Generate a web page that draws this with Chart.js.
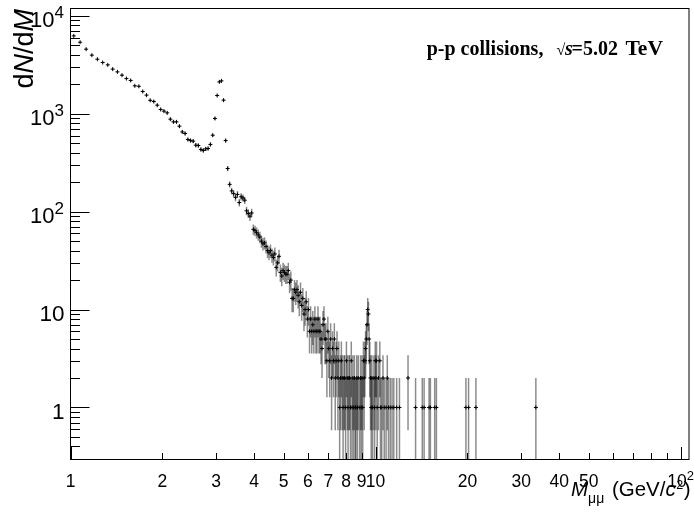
<!DOCTYPE html>
<html><head><meta charset="utf-8">
<script src="https://cdn.jsdelivr.net/npm/chart.js@4.4.1/dist/chart.umd.min.js"></script>
<style>html,body{margin:0;padding:0;background:#fff;}canvas{display:block;}</style>
</head><body>
<canvas id="c" width="694" height="514"></canvas>
<script>
// Bin centres (GeV/c^2) of non-empty bins, 0.05 GeV wide
const massBins = [
1.025,1.075,1.125,1.175,1.225,1.275,1.325,1.375,1.425,1.475,1.525,1.575,1.625,1.675,1.725,1.775,1.825,1.875,1.925,1.975,
2.025,2.075,2.125,2.175,2.225,2.275,2.325,2.375,2.425,2.475,2.525,2.575,2.625,2.675,2.725,2.775,2.825,2.875,2.925,2.975,
3.025,3.075,3.125,3.175,3.225,3.275,3.325,3.375,3.425,3.475,3.525,3.575,3.625,3.675,3.725,3.775,3.825,3.875,3.925,3.975,
4.025,4.075,4.125,4.175,4.225,4.275,4.325,4.375,4.425,4.475,4.525,4.575,4.625,4.675,4.725,4.775,4.825,4.875,4.925,4.975,
5.025,5.075,5.125,5.175,5.225,5.275,5.325,5.375,5.425,5.475,5.525,5.575,5.625,5.675,5.725,5.775,5.825,5.875,5.925,5.975,
6.025,6.075,6.125,6.175,6.225,6.275,6.325,6.375,6.425,6.475,6.525,6.575,6.625,6.675,6.725,6.775,6.825,6.875,6.925,6.975,
7.025,7.075,7.125,7.175,7.225,7.275,7.325,7.375,7.425,7.475,7.525,7.575,7.625,7.675,7.725,7.775,7.825,7.875,7.925,7.975,
8.025,8.075,8.125,8.175,8.225,8.275,8.325,8.375,8.425,8.475,8.525,8.575,8.625,8.675,8.725,8.775,8.875,8.925,8.975,
9.025,9.075,9.125,9.175,9.225,9.275,9.325,9.375,9.425,9.475,9.525,9.575,9.625,9.675,9.725,9.775,9.875,9.925,9.975,
10.025,10.075,10.125,10.225,10.325,10.375,10.475,10.575,10.675,10.825,10.925,11.025,11.175,11.325,11.475,11.725,11.975,
12.775,13.525,14.225,14.425,14.975,15.125,15.625,15.825,19.775,20.175,21.325,33.525
];
// Entries per bin (dN/dM)
const counts = [
6250,5380,4570,3970,3610,3340,3160,2860,2680,2480,2290,2190,1930,1910,1690,1550,1372,1335,1225,1107,
1064,1022,881,827,827,747,653,629,546,533,525,478,474,432,422,438,442,486,604,896,
1538,2118,2170,1377,533,276,190,163,153,140,150,124,142,138,131,102,96,90,97,66,
64,61,58,55,50,47,48,44,40,38,40,36,34,37,27,30,35,24,22,25,
24,23,23,25,19,20,13,13,16,15,16,14,12,15,11,13,9,10,12,8,
10,6,8,6,7,6,8,6,6,8,6,6,5,4,7,8,5,5,3,6,
4,3,5,2,4,3,5,2,3,4,2,3,1,2,3,2,1,2,2,1,
3,2,1,2,2,1,3,1,2,1,2,1,1,2,1,2,1,2,1,
2,1,3,2,3,4,5,7,10,9,5,3,2,1,2,1,2,1,3,
2,3,1,2,3,1,1,2,1,1,2,1,1,1,1,1,1,
2,1,1,1,1,1,1,1,1,1,1,1
];
const yTickValues = [1, 10, 100, 1000, 10000];
const yTickLabels = ['1', '10', '10^2', '10^3', '10^4'];
const xTickValues = [1, 2, 3, 4, 5, 6, 7, 8, 9, 10, 20, 30, 40, 50, 100];
const xTickLabels = ['1', '2', '3', '4', '5', '6', '7', '8', '9', '10', '20', '30', '40', '50', '10^2'];
const xRange = [1, 106.5];
const yRange = [0.294, 11900];

const SANS = '"Liberation Sans", Arial, Helvetica, sans-serif';
const SERIF = '"Liberation Serif", "Times New Roman", serif';

const points = massBins.map((m, i) => ({x: m, y: counts[i]}));

function drawPowLabel(ctx, label, x, y, align, size, supSize, supRaise) {
  const parts = label.split('^');
  ctx.font = size + 'px ' + SANS;
  const wb = ctx.measureText(parts[0]).width;
  let ws = 0;
  if (parts[1]) { ctx.font = supSize + 'px ' + SANS; ws = ctx.measureText(parts[1]).width; }
  const tot = wb + ws;
  let x0 = align === 'right' ? x - tot : (align === 'center' ? x - tot / 2 : x);
  ctx.textAlign = 'left';
  ctx.textBaseline = 'alphabetic';
  ctx.font = size + 'px ' + SANS;
  ctx.fillText(parts[0], x0, y);
  if (parts[1]) { ctx.font = supSize + 'px ' + SANS; ctx.fillText(parts[1], x0 + wb, y - supRaise); }
}

function drawSegments(ctx, segs, xRight, y) {
  let tot = 0;
  segs.forEach(s => { ctx.font = s.f; s.w = ctx.measureText(s.t).width + (s.gap || 0); tot += s.w; });
  let x = xRight - tot;
  ctx.textAlign = 'left'; ctx.textBaseline = 'alphabetic';
  segs.forEach(s => { ctx.font = s.f; ctx.fillText(s.t, x, y + (s.dy || 0)); x += s.w; });
}

const rootStyle = {
  id: 'rootStyle',
  beforeDatasetsDraw(chart) {
    const {ctx, chartArea: a, scales: {x, y}} = chart;
    ctx.save();
    ctx.beginPath(); ctx.rect(a.left, a.top, a.right - a.left, a.bottom - a.top); ctx.clip();
    ctx.strokeStyle = 'rgba(0,0,0,0.45)'; ctx.lineWidth = 1.5;
    points.forEach(p => {
      const e = Math.sqrt(p.y);
      const px = x.getPixelForValue(p.x);
      const yHi = y.getPixelForValue(p.y + e);
      const yLo = (p.y - e) > 0 ? y.getPixelForValue(p.y - e) : a.bottom + 2;
      ctx.beginPath(); ctx.moveTo(px, yHi); ctx.lineTo(px, yLo); ctx.stroke();
    });
    ctx.restore();
  },
  afterDraw(chart) {
    const {ctx, chartArea: a, scales: {x, y}} = chart;
    ctx.save();
    ctx.fillStyle = '#000'; ctx.strokeStyle = '#000'; ctx.lineWidth = 1;
    // frame
    ctx.strokeRect(a.left, a.top, a.right - a.left, a.bottom - a.top);
    // y ticks
    ctx.beginPath();
    for (let d = -1; d <= 4; d++) {
      for (let k = 1; k <= 9; k++) {
        const v = k * Math.pow(10, d);
        if (v < yRange[0] || v > yRange[1]) continue;
        const py = Math.round(y.getPixelForValue(v)) + 0.5;
        const len = k === 1 ? 19 : 9.5;
        ctx.moveTo(a.left, py); ctx.lineTo(a.left + len, py);
      }
    }
    // x ticks
    for (let d = 0; d <= 2; d++) {
      for (let k = 1; k <= 9; k++) {
        const v = k * Math.pow(10, d);
        if (v < xRange[0] || v > xRange[1]) continue;
        const px = Math.round(x.getPixelForValue(v)) + 0.5;
        const len = k === 1 ? 12.5 : 6.5;
        ctx.moveTo(px, a.bottom); ctx.lineTo(px, a.bottom - len);
      }
    }
    ctx.stroke();
    // y labels
    yTickValues.forEach((v, i) => {
      const py = y.getPixelForValue(v);
      const lab = yTickLabels[i];
      if (lab.indexOf('^') >= 0) drawPowLabel(ctx, lab, 64, py + 11.5, 'right', 22, 17, 9.5);
      else drawPowLabel(ctx, lab, 64.5, py + 11.5, 'right', 22.5, 16, 9);
    });
    // x labels
    xTickValues.forEach((v, i) => {
      const px = x.getPixelForValue(v);
      drawPowLabel(ctx, xTickLabels[i], px, 486.8, 'center', 17.5, 13, 7);
    });
    // y title: dN/dM (rotated)
    ctx.save();
    ctx.translate(32.5, 9);
    ctx.rotate(-Math.PI / 2);
    drawSegments(ctx, [
      {t: 'd', f: '27px ' + SANS},
      {t: 'N', f: 'italic 27px ' + SANS},
      {t: '/d', f: '27px ' + SANS},
      {t: 'M', f: 'italic 27px ' + SANS}
    ], 0, 0);
    ctx.restore();
    // x title
    drawSegments(ctx, [
      {t: 'M', f: 'italic 20.5px ' + SANS},
      {t: '\u03bc\u03bc', f: '14px ' + SANS, dy: 7.5, gap: 2},
      {t: ' (GeV/', f: '20.5px ' + SANS},
      {t: 'c', f: 'italic 20.5px ' + SANS, gap: 0.5},
      {t: '2', f: '12.5px ' + SANS, dy: -7, gap: 0.5},
      {t: ')', f: '20.5px ' + SANS}
    ], 690.5, 495.7);
    // annotation
    ctx.textAlign = 'left'; ctx.textBaseline = 'alphabetic';
    ctx.font = 'bold 20px ' + SERIF;
    ctx.fillText('p-p collisions,', 426.7, 55);
    ctx.font = '16px ' + SERIF;
    ctx.fillText('\u221a', 556.5, 55);
    ctx.font = 'bold italic 20px ' + SERIF;
    ctx.fillText('s', 565, 55);
    ctx.font = 'bold 20px ' + SERIF;
    ctx.fillText('=', 571.5, 55);
    ctx.fillText('5.02', 583, 55);
    ctx.font = 'bold 21.5px ' + SERIF;
    ctx.fillText('TeV', 625.5, 55);
    ctx.restore();
  }
};

new Chart(document.getElementById('c'), {
  type: 'scatter',
  data: {
    datasets: [{
      label: 'p-p',
      data: points,
      pointStyle: 'cross',
      pointRadius: 2,
      pointBorderWidth: 1,
      borderColor: '#000',
      backgroundColor: '#000',
      showLine: false
    }]
  },
  options: {
    responsive: false,
    animation: false,
    devicePixelRatio: 1,
    layout: {padding: {left: 70.5, top: 8.5, right: 2.5, bottom: 54.5}},
    plugins: {legend: {display: false}, tooltip: {enabled: false}},
    scales: {
      x: {type: 'logarithmic', min: xRange[0], max: xRange[1], display: false},
      y: {type: 'logarithmic', min: yRange[0], max: yRange[1], display: false}
    }
  },
  plugins: [rootStyle]
});
</script>
</body></html>
